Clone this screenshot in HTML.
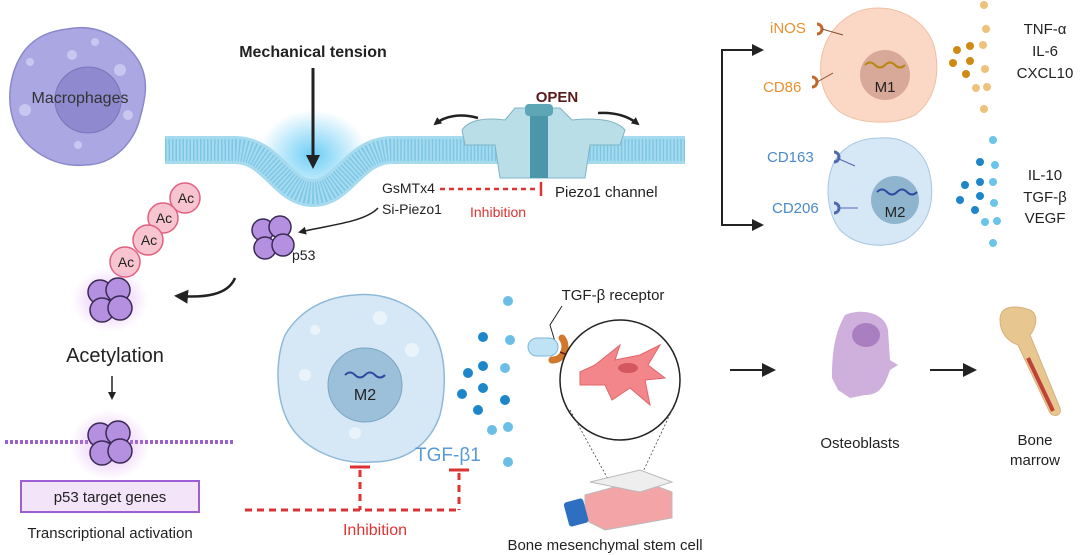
<!DOCTYPE html>
<html><head><meta charset="utf-8"><style>
html,body{margin:0;padding:0;background:#fff;}
svg{display:block;font-family:"Liberation Sans",sans-serif;}
</style></head><body>
<svg width="1080" height="555" viewBox="0 0 1080 555" xmlns="http://www.w3.org/2000/svg">
<defs>
<radialGradient id="glow"><stop offset="0" stop-color="#5cc8f5" stop-opacity="0.9"/><stop offset="1" stop-color="#5cc8f5" stop-opacity="0"/></radialGradient>
<radialGradient id="pglow"><stop offset="0" stop-color="#d58af0" stop-opacity="0.6"/><stop offset="1" stop-color="#d58af0" stop-opacity="0"/></radialGradient>
<marker id="ah" markerWidth="8" markerHeight="8" refX="6" refY="4" orient="auto" markerUnits="userSpaceOnUse"><path d="M0,0 L8,4 L0,8z" fill="#222"/></marker>
<marker id="ahb" markerWidth="14" markerHeight="14" refX="10" refY="7" orient="auto" markerUnits="userSpaceOnUse"><path d="M0,0 L14,7 L0,14z" fill="#222"/></marker>
</defs>

<!-- Macrophage -->
<path d="M75,28 C100,25 125,40 138,60 C150,80 145,100 140,118 C135,140 115,165 85,165 C55,168 25,150 15,125 C5,100 10,70 25,50 C40,32 58,30 75,28z" fill="#aaa7e2" stroke="#8c88cc" stroke-width="1.5"/>
<circle cx="88" cy="100" r="33" fill="#8f8ad0" stroke="#7a75bb"/>
<circle cx="72" cy="55" r="5" fill="#c9c7f0"/><circle cx="95" cy="42" r="4" fill="#c9c7f0"/><circle cx="120" cy="70" r="6" fill="#c9c7f0"/><circle cx="30" cy="62" r="4" fill="#c9c7f0"/><circle cx="25" cy="110" r="6" fill="#c9c7f0"/><circle cx="78" cy="145" r="4" fill="#c9c7f0"/><circle cx="128" cy="115" r="5" fill="#c9c7f0"/>
<text x="80" y="103" font-size="16" text-anchor="middle" fill="#333">Macrophages</text>

<!-- membrane -->
<ellipse cx="313" cy="155" rx="55" ry="45" fill="url(#glow)"/>
<path d="M165,150 L235,150 C272,150 282,193 313,193 C344,193 354,150 392,150 L685,150" fill="none" stroke="#a6dbef" stroke-width="28"/>
<path d="M165,150 L235,150 C272,150 282,193 313,193 C344,193 354,150 392,150 L685,150" fill="none" stroke="#7cc6e6" stroke-width="22" stroke-dasharray="1.5 2"/>
<text x="313" y="57" font-size="16" font-weight="bold" text-anchor="middle" fill="#222">Mechanical tension</text>
<line x1="313" y1="68" x2="313" y2="165" stroke="#222" stroke-width="3" marker-end="url(#ahb)"/>

<!-- Piezo -->
<path d="M462,130 C470,118 490,118 505,120 L515,108 L560,108 L572,120 C590,118 615,118 625,130 L620,145 L590,145 L585,178 L500,178 L495,145 L465,145z" fill="#b9dee7" stroke="#7fb4c4"/>
<rect x="530" y="108" width="18" height="70" fill="#4b97a9"/>
<rect x="525" y="104" width="28" height="12" rx="4" fill="#5ea6b6"/>
<text x="557" y="102" font-size="15" font-weight="bold" text-anchor="middle" fill="#5a1b1b">OPEN</text>
<path d="M478,118 C460,113 445,116 435,124" fill="none" stroke="#222" stroke-width="2.5" marker-end="url(#ah)"/>
<path d="M598,113 C615,112 628,116 638,124" fill="none" stroke="#222" stroke-width="2.5" marker-end="url(#ah)"/>

<text x="382" y="193" font-size="14" fill="#222">GsMTx4</text>
<text x="382" y="214" font-size="14" fill="#222">Si-Piezo1</text>
<line x1="440" y1="189" x2="538" y2="189" stroke="#d33" stroke-width="2.5" stroke-dasharray="5 4"/>
<line x1="541" y1="182" x2="541" y2="196" stroke="#d33" stroke-width="2.5"/>
<text x="470" y="217" font-size="14" fill="#d33">Inhibition</text>
<text x="555" y="197" font-size="15" fill="#222">Piezo1 channel</text>

<!-- p53 -->
<path d="M378,208 C365,222 330,225 300,232" fill="none" stroke="#222" stroke-width="1.5" marker-end="url(#ah)"/>
<g stroke="#3a2a55" stroke-width="1.5" fill="#b58fe0">
<circle cx="263" cy="230" r="11"/><circle cx="280" cy="227" r="11"/><circle cx="265" cy="248" r="11"/><circle cx="283" cy="245" r="11"/></g>
<text x="292" y="260" font-size="14" fill="#222">p53</text>

<!-- Ac -->
<g fill="#f7c4d0" stroke="#e0607f" stroke-width="1.5">
<circle cx="185" cy="198" r="15"/><circle cx="163" cy="218" r="15"/><circle cx="148" cy="240" r="15"/><circle cx="125" cy="262" r="15"/></g>
<g font-size="14" fill="#222" text-anchor="middle"><text x="186" y="203">Ac</text><text x="164" y="223">Ac</text><text x="149" y="245">Ac</text><text x="126" y="267">Ac</text></g>

<ellipse cx="110" cy="300" rx="38" ry="32" fill="url(#pglow)"/>
<g stroke="#3a2a55" stroke-width="1.5" fill="#b58fe0">
<circle cx="100" cy="292" r="12"/><circle cx="118" cy="290" r="12"/><circle cx="102" cy="310" r="12"/><circle cx="120" cy="308" r="12"/></g>
<path d="M235,278 C228,295 205,298 178,296" fill="none" stroke="#222" stroke-width="2.5" marker-end="url(#ahb)"/>
<text x="115" y="362" font-size="20" text-anchor="middle" fill="#222">Acetylation</text>
<line x1="112" y1="376" x2="112" y2="398" stroke="#222" stroke-width="1.5" marker-end="url(#ah)"/>

<line x1="5" y1="442" x2="235" y2="442" stroke="#9b62c9" stroke-width="4" stroke-dasharray="3 2"/>
<ellipse cx="110" cy="445" rx="40" ry="35" fill="url(#pglow)"/>
<g stroke="#3a2a55" stroke-width="1.5" fill="#b58fe0">
<circle cx="100" cy="435" r="12"/><circle cx="118" cy="433" r="12"/><circle cx="102" cy="453" r="12"/><circle cx="120" cy="451" r="12"/></g>
<rect x="21" y="481" width="178" height="31" fill="#f3e4fa" stroke="#9c60d4" stroke-width="2"/>
<text x="110" y="502" font-size="15" text-anchor="middle" fill="#222">p53 target genes</text>
<text x="110" y="538" font-size="15" text-anchor="middle" fill="#222">Transcriptional activation</text>

<!-- M2 big -->
<path d="M355,295 C385,292 420,305 435,335 C448,360 445,395 440,415 C430,445 405,462 372,462 C340,465 305,450 290,425 C275,400 275,360 285,335 C300,310 325,297 355,295z" fill="#d6e8f5" stroke="#8fb9d8" stroke-width="1.5"/>
<circle cx="365" cy="385" r="37" fill="#9cc0da" stroke="#7aa5c4"/>
<path d="M345,375 q5,-5 10,0 t10,0 t10,0 t10,0" fill="none" stroke="#2a4aa0" stroke-width="2"/>
<text x="365" y="400" font-size="16" text-anchor="middle" fill="#222">M2</text>
<circle cx="305" cy="375" r="6" fill="#eaf3fa"/><circle cx="380" cy="318" r="7" fill="#eaf3fa"/><circle cx="412" cy="350" r="7" fill="#eaf3fa"/><circle cx="355" cy="433" r="6" fill="#eaf3fa"/><circle cx="315" cy="330" r="5" fill="#eaf3fa"/>

<!-- TGF dots -->
<g fill="#1d86c8"><circle cx="483" cy="337" r="5"/><circle cx="468" cy="373" r="5"/><circle cx="483" cy="366" r="5"/><circle cx="483" cy="388" r="5"/><circle cx="462" cy="394" r="5"/><circle cx="478" cy="410" r="5"/><circle cx="505" cy="400" r="5"/></g>
<g fill="#6bbfe6"><circle cx="508" cy="301" r="5"/><circle cx="510" cy="340" r="5"/><circle cx="505" cy="368" r="5"/><circle cx="492" cy="430" r="5"/><circle cx="508" cy="427" r="5"/><circle cx="508" cy="462" r="5"/></g>
<text x="415" y="461" font-size="19" fill="#5b9ad6">TGF-β1</text>

<!-- Inhibition bottom -->
<line x1="350" y1="467" x2="370" y2="467" stroke="#d33" stroke-width="3"/>
<line x1="449" y1="470" x2="469" y2="470" stroke="#d33" stroke-width="3"/>
<path d="M245,510 L460,510 M360,470 L360,510 M459,473 L459,510" fill="none" stroke="#d33" stroke-width="3" stroke-dasharray="7 5"/>
<text x="375" y="535" font-size="16" text-anchor="middle" fill="#d33">Inhibition</text>

<!-- BMSC -->
<text x="613" y="300" font-size="15" text-anchor="middle" fill="#222">TGF-β receptor</text>
<path d="M562,306 L550,325 L556,345" fill="none" stroke="#222"/>
<rect x="528" y="338" width="30" height="18" rx="9" fill="#bfe3f5" stroke="#7ab8da"/>
<path d="M552,360 C565,360 568,345 562,338" fill="none" stroke="#d2782c" stroke-width="7" stroke-linecap="round"/>
<line x1="560" y1="352" x2="580" y2="360" stroke="#6a1a1a" stroke-width="1.5"/>
<circle cx="620" cy="380" r="60" fill="#fff" stroke="#222" stroke-width="1.5"/>
<path d="M580,372 L595,365 L620,345 L615,360 L640,355 L660,345 L648,365 L665,378 L645,380 L650,405 L630,388 L612,400 L605,385 L580,385 z" fill="#f3868a" stroke="#e0666a"/>
<ellipse cx="628" cy="368" rx="10" ry="5" fill="#d4565e"/>
<line x1="570" y1="410" x2="625" y2="510" stroke="#444" stroke-width="0.8" stroke-dasharray="2 2"/>
<line x1="672" y1="410" x2="625" y2="510" stroke="#444" stroke-width="0.8" stroke-dasharray="2 2"/>
<path d="M585,495 L640,480 L672,492 L672,518 L605,530 L585,520z" fill="#f3a4a6" stroke="#bbb"/>
<path d="M590,482 L640,470 L672,482 L640,492z" fill="#eee" stroke="#bbb"/>
<rect x="566" y="500" width="20" height="25" rx="3" fill="#2e6fc2" transform="rotate(-15 576 512)"/>
<text x="605" y="550" font-size="15" text-anchor="middle" fill="#222">Bone mesenchymal stem cell</text>

<line x1="730" y1="370" x2="772" y2="370" stroke="#222" stroke-width="2" marker-end="url(#ahb)"/>
<path d="M845,315 C860,308 885,312 888,330 L890,360 L898,365 L890,370 C885,385 880,395 865,395 L850,398 L838,390 L832,378 C832,360 833,335 845,315z" fill="#cfb0dc"/>
<ellipse cx="866" cy="335" rx="14" ry="12" fill="#a97fc2"/>
<text x="860" y="448" font-size="15" text-anchor="middle" fill="#222">Osteoblasts</text>
<line x1="930" y1="370" x2="973" y2="370" stroke="#222" stroke-width="2" marker-end="url(#ahb)"/>
<path d="M1000,320 C1000,305 1015,305 1030,310 C1040,315 1035,330 1030,335 L1060,408 C1062,415 1055,418 1050,413 L1018,345 C1010,342 1000,335 1000,320z" fill="#e8c690" stroke="#d6b27a"/>
<line x1="1028" y1="358" x2="1053" y2="411" stroke="#c0403a" stroke-width="4"/>
<text x="1035" y="445" font-size="15" text-anchor="middle" fill="#222">Bone</text>
<text x="1035" y="465" font-size="15" text-anchor="middle" fill="#222">marrow</text>

<!-- Top right -->
<path d="M752,50 L722,50 L722,225 L752,225" fill="none" stroke="#222" stroke-width="2"/>
<path d="M752,44 L764,50 L752,56z M752,219 L764,225 L752,231z" fill="#222"/>
<path d="M878,8 C905,8 930,25 935,50 C940,75 935,100 915,115 C895,125 860,125 840,112 C822,98 818,75 822,55 C828,28 850,8 878,8z" fill="#fbd8c6" stroke="#f0bfa4"/>
<circle cx="885" cy="75" r="25" fill="#d8a899"/>
<path d="M865,65 q5,-5 10,0 t10,0 t10,0 t10,0" fill="none" stroke="#b8860b" stroke-width="2"/>
<text x="885" y="92" font-size="15" text-anchor="middle" fill="#222">M1</text>
<text x="770" y="33" font-size="15" fill="#e8902e">iNOS</text>
<text x="763" y="92" font-size="15" fill="#e8902e">CD86</text>
<path d="M817,24 a5,5 0 1 1 0,10 M812,77 a5,5 0 1 1 0,10" fill="none" stroke="#c2682a" stroke-width="3"/>
<line x1="822" y1="29" x2="843" y2="35" stroke="#8a4a2a"/><line x1="817" y1="82" x2="833" y2="73" stroke="#8a4a2a"/>
<g fill="#d08a14"><circle cx="957" cy="50" r="4"/><circle cx="970" cy="46" r="4"/><circle cx="953" cy="63" r="4"/><circle cx="970" cy="61" r="4"/><circle cx="966" cy="74" r="4"/></g>
<g fill="#eec27a"><circle cx="984" cy="5" r="4"/><circle cx="986" cy="29" r="4"/><circle cx="983" cy="45" r="4"/><circle cx="985" cy="69" r="4"/><circle cx="976" cy="88" r="4"/><circle cx="987" cy="87" r="4"/><circle cx="984" cy="109" r="4"/></g>
<g font-size="15" fill="#222" text-anchor="middle"><text x="1045" y="34">TNF-α</text><text x="1045" y="56">IL-6</text><text x="1045" y="78">CXCL10</text>
<text x="1045" y="180">IL-10</text><text x="1045" y="202">TGF-β</text><text x="1045" y="223">VEGF</text></g>
<path d="M880,138 C905,136 925,150 930,175 C935,200 930,225 905,240 C880,250 855,245 840,230 C825,210 825,180 835,160 C845,145 860,138 880,138z" fill="#d6e7f5" stroke="#a6c7e2"/>
<circle cx="895" cy="200" r="24" fill="#8fb4cd"/>
<path d="M877,192 q5,-5 10,0 t10,0 t10,0 t10,0" fill="none" stroke="#2a4aa0" stroke-width="2"/>
<text x="895" y="217" font-size="15" text-anchor="middle" fill="#222">M2</text>
<text x="767" y="162" font-size="15" fill="#4a8ac8">CD163</text>
<text x="772" y="213" font-size="15" fill="#4a8ac8">CD206</text>
<path d="M834,152 a5,5 0 1 1 0,10 M834,203 a5,5 0 1 1 0,10" fill="none" stroke="#5068b0" stroke-width="3"/>
<line x1="839" y1="159" x2="855" y2="166" stroke="#5068b0"/><line x1="839" y1="208" x2="858" y2="208" stroke="#5068b0"/>
<g fill="#1d86c8"><circle cx="980" cy="162" r="4"/><circle cx="965" cy="185" r="4"/><circle cx="980" cy="182" r="4"/><circle cx="960" cy="200" r="4"/><circle cx="980" cy="196" r="4"/><circle cx="975" cy="210" r="4"/></g>
<g fill="#6bc4ea"><circle cx="993" cy="140" r="4"/><circle cx="995" cy="165" r="4"/><circle cx="993" cy="182" r="4"/><circle cx="994" cy="203" r="4"/><circle cx="985" cy="222" r="4"/><circle cx="997" cy="221" r="4"/><circle cx="993" cy="243" r="4"/></g>
</svg>
</body></html>
